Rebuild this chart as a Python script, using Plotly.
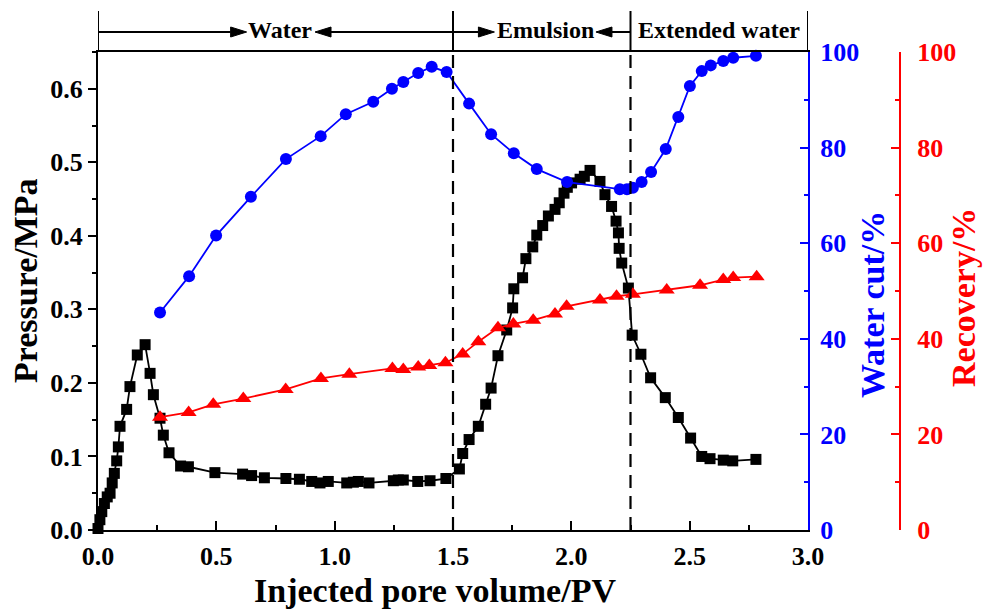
import plotly.graph_objects as go

# ---------------- data ----------------
x_pressure = [0.0, 0.008, 0.016, 0.027, 0.039, 0.051, 0.06, 0.069, 0.079, 0.086, 0.093, 0.121, 0.135,
              0.166, 0.199, 0.22, 0.234, 0.262, 0.276, 0.30, 0.349, 0.382, 0.494, 0.611, 0.649, 0.703,
              0.794, 0.851, 0.903, 0.938, 0.973, 1.051, 1.079, 1.10, 1.145, 1.248, 1.269, 1.29, 1.351,
              1.403, 1.47, 1.527, 1.541, 1.568, 1.607, 1.638, 1.661, 1.69, 1.727, 1.752, 1.757, 1.794,
              1.808, 1.837, 1.854, 1.879, 1.903, 1.931, 1.949, 1.969, 1.983, 2.001, 2.037, 2.055, 2.079,
              2.121, 2.142, 2.170, 2.189, 2.199, 2.202, 2.213, 2.241, 2.257, 2.294, 2.335, 2.397, 2.452,
              2.504, 2.551, 2.586, 2.642, 2.682, 2.780]
pressure = [0.002, 0.014, 0.025, 0.036, 0.045, 0.050, 0.064, 0.077, 0.094, 0.113, 0.141, 0.164, 0.195,
            0.238, 0.252, 0.213, 0.184, 0.152, 0.129, 0.105, 0.087, 0.086, 0.078, 0.076, 0.074, 0.071,
            0.070, 0.069, 0.066, 0.064, 0.066, 0.064, 0.065, 0.066, 0.064, 0.067, 0.068, 0.068, 0.066,
            0.067, 0.070, 0.083, 0.104, 0.123, 0.141, 0.171, 0.193, 0.237, 0.272, 0.302, 0.328, 0.343,
            0.369, 0.385, 0.401, 0.414, 0.427, 0.436, 0.445, 0.458, 0.466, 0.472, 0.477, 0.481, 0.489,
            0.474, 0.456, 0.440, 0.420, 0.404, 0.383, 0.363, 0.329, 0.265, 0.239, 0.207, 0.180, 0.153,
            0.125, 0.100, 0.097, 0.095, 0.094, 0.096]

x_watercut = [0.262, 0.385, 0.499, 0.646, 0.794, 0.941, 1.047, 1.163, 1.242, 1.29, 1.353, 1.41, 1.473,
              1.568, 1.661, 1.757, 1.854, 1.982, 2.205, 2.235, 2.26, 2.297, 2.337, 2.399, 2.452, 2.501,
              2.551, 2.589, 2.642, 2.684, 2.780]
watercut = [45.5, 53.1, 61.6, 69.7, 77.6, 82.4, 87.0, 89.6, 92.3, 93.7, 95.6, 96.9, 95.8,
            89.2, 82.8, 78.8, 75.5, 72.8, 71.3, 71.3, 71.6, 72.8, 74.9, 79.7, 86.4, 92.9,
            96.0, 97.2, 98.1, 98.8, 99.2]

x_recovery = [0.262, 0.383, 0.487, 0.614, 0.793, 0.942, 1.062, 1.244, 1.29, 1.353, 1.40, 1.468, 1.541,
              1.607, 1.69, 1.755, 1.839, 1.931, 1.98, 2.121, 2.191, 2.26, 2.403, 2.544, 2.642, 2.684, 2.783]
recovery = [23.6, 24.6, 26.3, 27.5, 29.4, 31.7, 32.6, 33.8, 33.6, 34.1, 34.4, 35.0, 36.8,
            39.4, 42.3, 43.1, 43.9, 45.2, 46.8, 48.1, 48.9, 49.3, 50.2, 51.2, 52.4, 52.8, 53.0]

phase_bounds = [0.0, 1.5, 2.25, 3.0]
phase_labels = ["Water", "Emulsion", "Extended water"]
phase_label_x = [0.769, 1.89, 2.625]

x_title = "Injected pore volume/PV"
y1_title = "Pressure/MPa"
y2_title = "Water cut/%"
y3_title = "Recovery/%"

# ---------------- layout geometry ----------------
W, H = 984, 614
ML, MR, MT, MB = 98, 10, 52, 84
PW = W - ML - MR
PH = H - MT - MB
plot_right_px = 808
red_axis_px = 900
XD = (plot_right_px - ML) / PW
FONT = "Liberation Serif"
BLUE = "#0000FF"
RED = "#FF0000"

def px_to_paper_x(px):
    return (px - ML) / PW

def px_to_paper_y(py):
    return (H - MB - py) / PH

fig = go.Figure()
fig.add_trace(go.Scatter(x=x_pressure, y=pressure, mode="lines+markers", name="Pressure",
                         line=dict(color="black", width=1.8),
                         marker=dict(symbol="square", size=11, color="black"),
                         yaxis="y", cliponaxis=False))
fig.add_trace(go.Scatter(x=x_watercut, y=watercut, mode="lines+markers", name="Water cut",
                         line=dict(color=BLUE, width=1.8),
                         marker=dict(symbol="circle", size=12, color=BLUE),
                         yaxis="y2", cliponaxis=False))
fig.add_trace(go.Scatter(x=x_recovery, y=recovery, mode="lines+markers", name="Recovery",
                         line=dict(color=RED, width=1.8),
                         marker=dict(symbol="triangle-up", size=14, color=RED),
                         yaxis="y3", cliponaxis=False))

tickfont = dict(family=FONT, size=26, weight="bold", color="black")

fig.update_layout(
    width=W, height=H, margin=dict(l=ML, r=MR, t=MT, b=MB, autoexpand=False),
    paper_bgcolor="white", plot_bgcolor="white", showlegend=False,
    xaxis=dict(domain=[0, XD], range=[0, 3], dtick=0.5, tickformat=".1f",
               ticks="inside", ticklen=9, tickwidth=2, tickcolor="black",
               minor=dict(dtick=0.25, ticks="inside", ticklen=5, tickwidth=2, tickcolor="black"),
               showline=True, linecolor="black", linewidth=2, mirror=True,
               showgrid=False, zeroline=False, tickfont=tickfont, ticklabelstandoff=2,
               automargin=False),
    yaxis=dict(range=[0, 0.65], dtick=0.1, tick0=0, tickformat=".1f",
               ticks="outside", ticklen=8, tickwidth=2, tickcolor="black",
               minor=dict(dtick=0.05, ticks="outside", ticklen=4, tickwidth=2, tickcolor="black"),
               showline=True, linecolor="black", linewidth=2,
               showgrid=False, zeroline=False, tickfont=tickfont, automargin=False),
    yaxis2=dict(overlaying="y", side="right", anchor="x", range=[0, 100], dtick=20,
                ticks="inside", ticklen=8, tickwidth=2, tickcolor=BLUE,
                minor=dict(dtick=10, ticks="inside", ticklen=4, tickwidth=2, tickcolor=BLUE),
                showline=True, linecolor=BLUE, linewidth=2,
                showgrid=False, zeroline=False,
                tickfont=dict(family=FONT, size=26, weight="bold", color=BLUE),
                ticklabelstandoff=5, automargin=False),
    yaxis3=dict(overlaying="y", side="right", anchor="free", position=px_to_paper_x(red_axis_px),
                range=[0, 100], dtick=20,
                ticks="inside", ticklen=8, tickwidth=2, tickcolor=RED,
                minor=dict(dtick=10, ticks="inside", ticklen=4, tickwidth=2, tickcolor=RED),
                showline=True, linecolor=RED, linewidth=2,
                showgrid=False, zeroline=False,
                tickfont=dict(family=FONT, size=26, weight="bold", color=RED),
                ticklabelstandoff=11, automargin=False),
)

# axis titles
title_font = dict(family=FONT, size=34, weight="bold")
fig.add_annotation(text=x_title, xref="paper", yref="paper", x=px_to_paper_x(435), y=px_to_paper_y(590),
                   showarrow=False, font=dict(title_font, color="black"), xanchor="center", yanchor="middle")
fig.add_annotation(text=y1_title, xref="paper", yref="paper", x=px_to_paper_x(25), y=px_to_paper_y(281),
                   showarrow=False, textangle=-90, font=dict(title_font, color="black"),
                   xanchor="center", yanchor="middle")
fig.add_annotation(text=y2_title, xref="paper", yref="paper", x=px_to_paper_x(872), y=px_to_paper_y(305),
                   showarrow=False, textangle=-90, font=dict(title_font, color=BLUE),
                   xanchor="center", yanchor="middle")
fig.add_annotation(text=y3_title, xref="paper", yref="paper", x=px_to_paper_x(963), y=px_to_paper_y(298),
                   showarrow=False, textangle=-90, font=dict(title_font, color=RED),
                   xanchor="center", yanchor="middle")

# header band with phase labels
y_top = px_to_paper_y(11)
y_arrow = px_to_paper_y(32)
for xb in phase_bounds:
    fig.add_shape(type="line", xref="x", yref="paper", x0=xb, x1=xb, y0=1, y1=y_top,
                  line=dict(color="black", width=2))
for xb in phase_bounds[1:-1]:
    fig.add_shape(type="line", xref="x", yref="paper", x0=xb, x1=xb, y0=0, y1=1,
                  line=dict(color="black", width=2.2, dash="13px,8px"))

for lab, xc in zip(phase_labels, phase_label_x):
    fig.add_annotation(text=lab, xref="x", yref="paper", x=xc, y=px_to_paper_y(30),
                       showarrow=False, font=dict(family=FONT, size=24, weight="bold", color="black"),
                       xanchor="center", yanchor="middle")

# arrows: (line start, arrow tip) pairs
arrow_pairs = [(0.0, 0.628), (1.5, 0.917), (1.5, 1.675), (2.25, 2.104)]
ah_len = 16 / (PW * XD / 3.0)
ah_half = 5 / PH
for x0, tip in arrow_pairs:
    d = 1 if tip > x0 else -1
    base = tip - d * ah_len
    fig.add_shape(type="line", xref="x", yref="paper", x0=x0, x1=base, y0=y_arrow, y1=y_arrow,
                  line=dict(color="black", width=2))
    fig.add_shape(type="path", xref="x", yref="paper",
                  path=f"M {tip},{y_arrow} L {base},{y_arrow + ah_half} L {base},{y_arrow - ah_half} Z",
                  fillcolor="black", line=dict(color="black", width=1))

fig.write_html("out.html")
